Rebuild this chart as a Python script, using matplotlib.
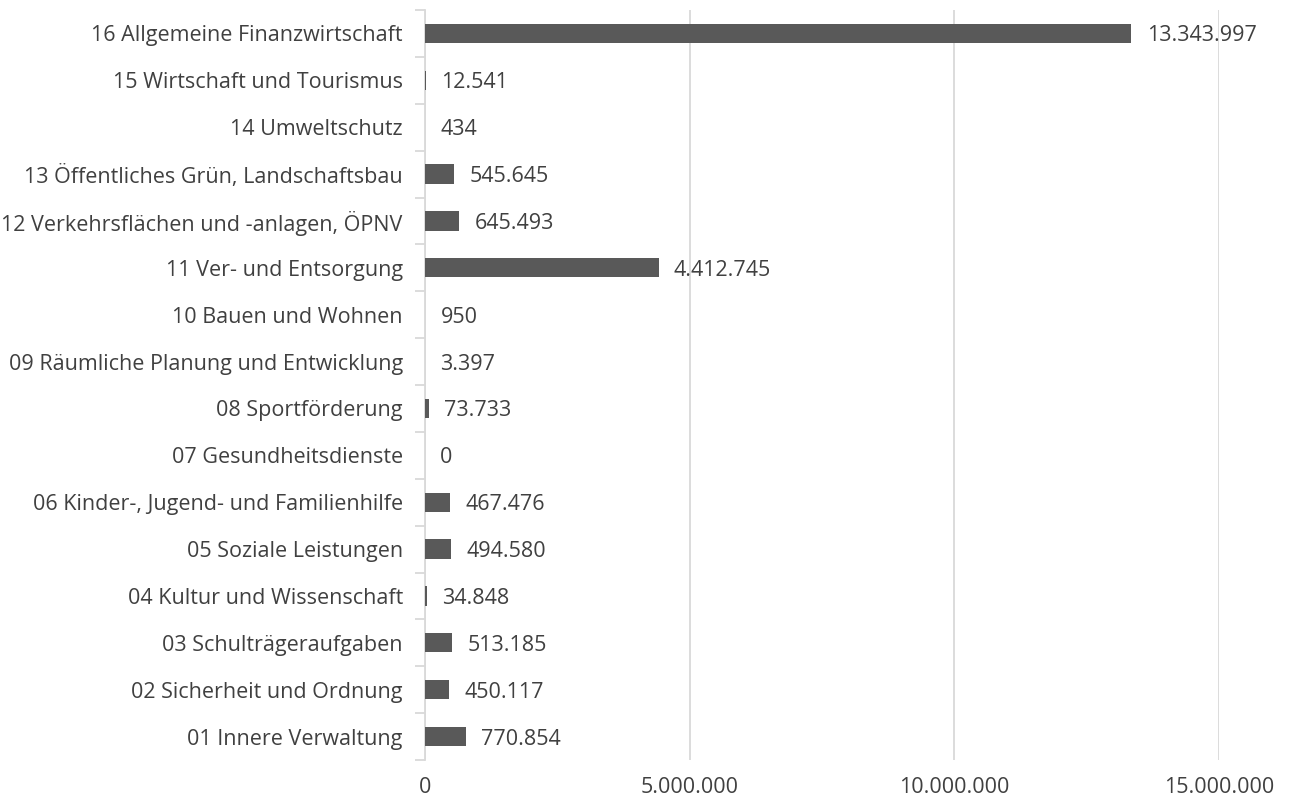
import numpy as np
import matplotlib
matplotlib.use('Agg')
import matplotlib.pyplot as plt
from matplotlib.ticker import FuncFormatter, FixedLocator

categories = [
    "01 Innere Verwaltung",
    "02 Sicherheit und Ordnung",
    "03 Schulträgeraufgaben",
    "04 Kultur und Wissenschaft",
    "05 Soziale Leistungen",
    "06 Kinder-, Jugend- und Familienhilfe",
    "07 Gesundheitsdienste",
    "08 Sportförderung",
    "09 Räumliche Planung und Entwicklung",
    "10 Bauen und Wohnen",
    "11 Ver- und Entsorgung",
    "12 Verkehrsflächen und -anlagen, ÖPNV",
    "13 Öffentliches Grün, Landschaftsbau",
    "14 Umweltschutz",
    "15 Wirtschaft und Tourismus",
    "16 Allgemeine Finanzwirtschaft",
]
values = [770854, 450117, 513185, 34848, 494580, 467476, 0, 73733,
          3397, 950, 4412745, 645493, 545645, 434, 12541, 13343997]

def de_fmt(v):
    return f"{int(v):,}".replace(",", ".")

plt.rcParams['font.family'] = ['Open Sans', 'DejaVu Sans']
txt = '#404040'
grid = '#d9d9d9'
fs = 15.5

fig = plt.figure(figsize=(12.9, 8), dpi=100)
ax = fig.add_axes([0.3295, 0.05, 0.6155, 0.9375])

y = np.arange(len(categories))
ax.barh(y, values, height=0.41, color='#595959', zorder=3)
for yi, v in zip(y, values):
    ax.annotate(de_fmt(v), (v, yi), xytext=(11, 0), textcoords='offset points',
                va='center_baseline', ha='left', fontsize=fs, color=txt, zorder=4)

ax.set_xlim(0, 15000000)
ax.set_ylim(-0.5, len(categories) - 0.5)
ax.set_xticks([0, 5000000, 10000000, 15000000])
ax.xaxis.set_major_formatter(FuncFormatter(lambda v, p: de_fmt(v)))
ax.set_yticks(y)
ax.set_yticklabels(categories, va='center_baseline')
ax.yaxis.set_minor_locator(FixedLocator(np.arange(-0.5, len(categories), 1)))

ax.tick_params(axis='x', length=0, pad=12, labelsize=fs, labelcolor=txt)
ax.tick_params(axis='y', which='major', length=0, pad=16, labelsize=fs, labelcolor=txt)
ax.tick_params(axis='y', which='minor', length=7, color=grid, width=1.3)

ax.grid(axis='x', color=grid, linewidth=1.3, zorder=0)
for s in ['top', 'right', 'bottom']:
    ax.spines[s].set_visible(False)
ax.spines['left'].set_color(grid)
ax.spines['left'].set_linewidth(1.3)

fig.savefig('out.png', dpi=100)
